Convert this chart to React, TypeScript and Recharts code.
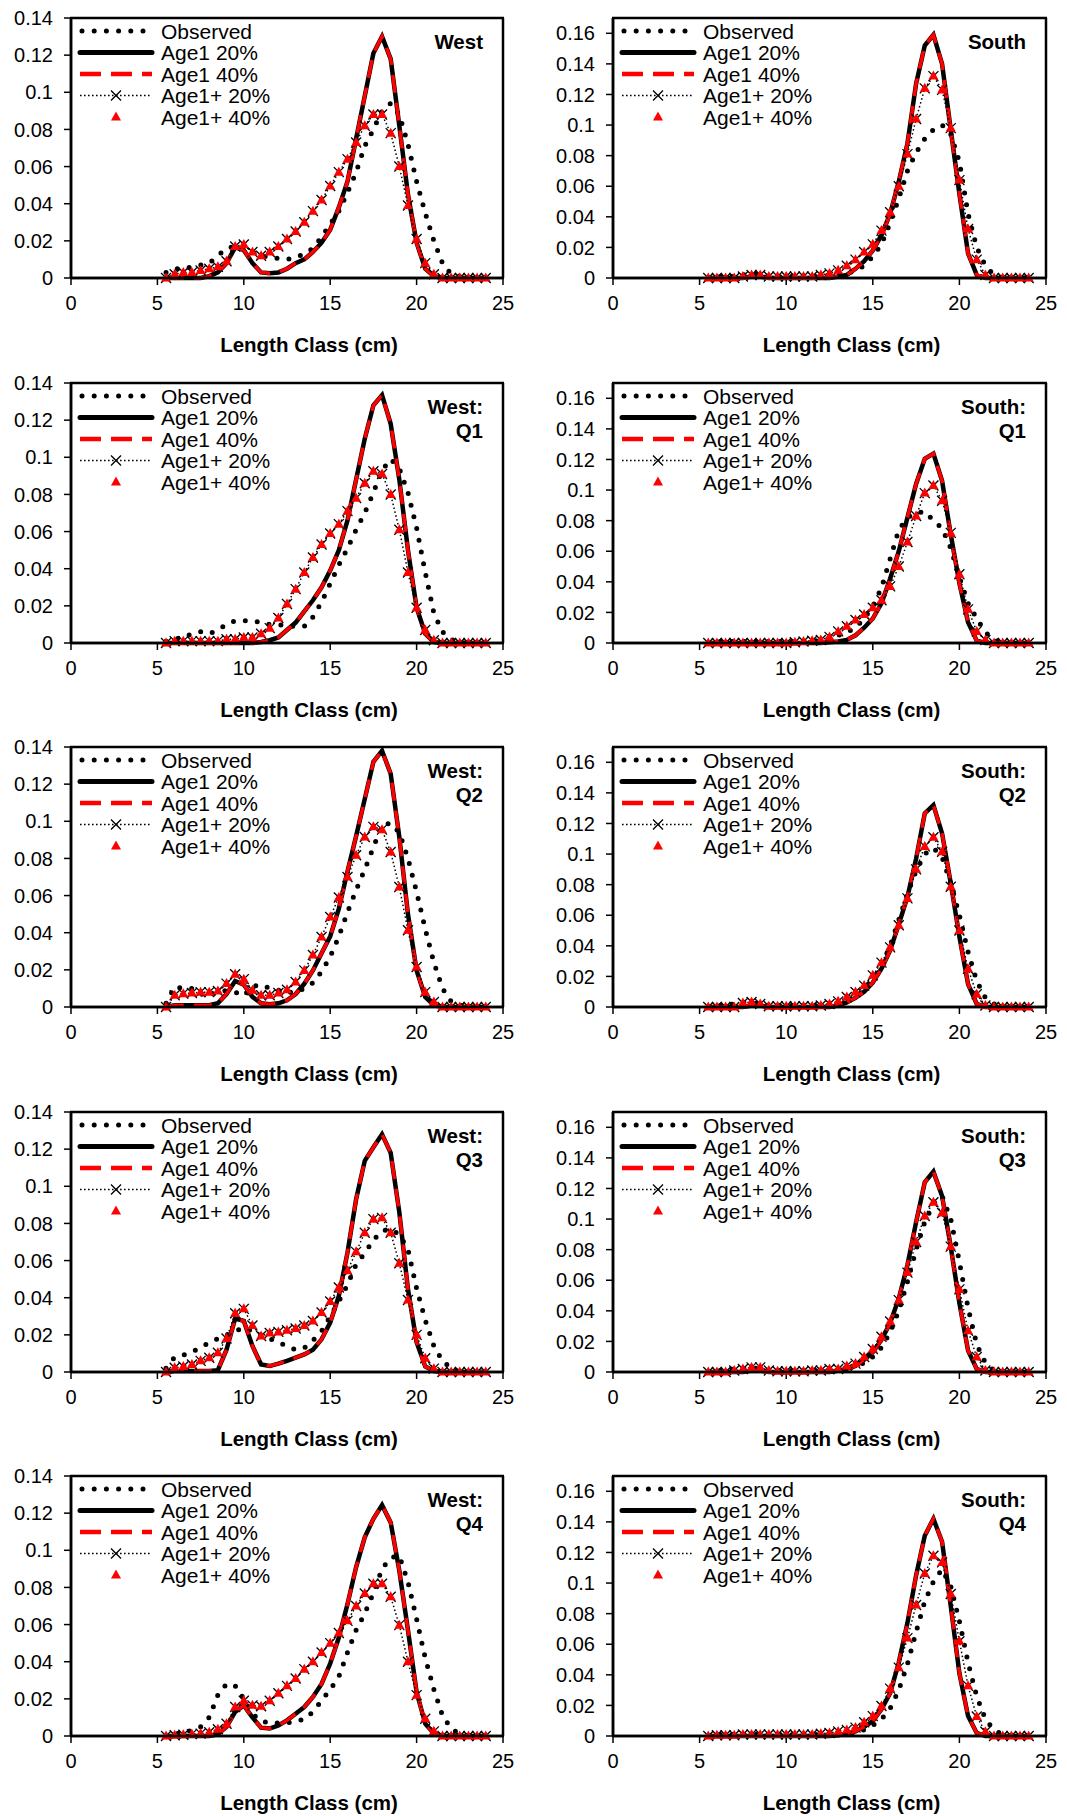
import React from 'react';
import { LineChart, Line, XAxis, YAxis } from 'recharts';

// length classes (cm), shared by every panel
const lengthClasses = [
  5.5, 6, 6.5, 7, 7.5, 8, 8.5, 9, 9.5, 10, 10.5, 11, 11.5, 12, 12.5, 13, 13.5, 14, 14.5, 15,
  15.5, 16, 16.5, 17, 17.5, 18, 18.5, 19, 19.5, 20, 20.5, 21, 21.5, 22, 22.5, 23, 23.5, 24,
];
const xTicks = [0, 5, 10, 15, 20, 25];
const westTicks = [0, 0.02, 0.04, 0.06, 0.08, 0.1, 0.12, 0.14];
const southTicks = [0, 0.02, 0.04, 0.06, 0.08, 0.1, 0.12, 0.14, 0.16];
const seriesNames = ['Observed', 'Age1 20%', 'Age1 40%', 'Age1+ 20%', 'Age1+ 40%'];

// West
const westObserved = [0.003, 0.005, 0.005, 0.006, 0.007, 0.008, 0.012, 0.016, 0.017, 0.016, 0.014, 0.012, 0.011, 0.0105, 0.01, 0.011, 0.013, 0.016, 0.022, 0.029, 0.036, 0.046, 0.057, 0.071, 0.08, 0.09, 0.094, 0.088, 0.072, 0.052, 0.035, 0.02, 0.008, 0.002, 0.001, 0, 0, 0];
const westAge1_20 = [0, 0, 0, 0, 0, 0.001, 0.003, 0.008, 0.0165, 0.015, 0.008, 0.003, 0.0025, 0.003, 0.005, 0.008, 0.01, 0.014, 0.019, 0.026, 0.038, 0.052, 0.075, 0.098, 0.121, 0.13, 0.118, 0.082, 0.045, 0.019, 0.005, 0.001, 0, 0, 0, 0, 0, 0];
const westAge1_40 = westAge1_20;
const westAge1p_20 = [0, 0.002, 0.003, 0.003, 0.004, 0.005, 0.006, 0.009, 0.017, 0.018, 0.014, 0.012, 0.014, 0.017, 0.021, 0.025, 0.03, 0.036, 0.042, 0.0495, 0.057, 0.064, 0.073, 0.082, 0.088, 0.088, 0.078, 0.06, 0.039, 0.021, 0.008, 0.002, 0, 0, 0, 0, 0, 0];
const westAge1p_40 = westAge1p_20;

// South
const southObserved = [0, 0.001, 0.001, 0.001, 0.002, 0.003, 0.002, 0.001, 0.001, 0.001, 0.001, 0.001, 0.001, 0.001, 0.002, 0.002, 0.003, 0.005, 0.008, 0.014, 0.022, 0.036, 0.052, 0.07, 0.082, 0.091, 0.097, 0.1, 0.094, 0.076, 0.042, 0.02, 0.008, 0.002, 0, 0, 0, 0];
const southAge1_20 = [0, 0, 0, 0, 0, 0.001, 0.001, 0, 0, 0, 0, 0, 0, 0, 0, 0.001, 0.002, 0.006, 0.011, 0.018, 0.028, 0.042, 0.063, 0.088, 0.127, 0.152, 0.159, 0.14, 0.097, 0.055, 0.016, 0.002, 0, 0, 0, 0, 0, 0];
const southAge1_40 = southAge1_20;
const southAge1p_20 = [0, 0, 0, 0, 0.001, 0.002, 0.002, 0.001, 0.001, 0.001, 0.001, 0.001, 0.001, 0.002, 0.003, 0.005, 0.008, 0.012, 0.017, 0.022, 0.031, 0.043, 0.06, 0.081, 0.104, 0.124, 0.132, 0.123, 0.098, 0.064, 0.032, 0.012, 0.002, 0, 0, 0, 0, 0];
const southAge1p_40 = southAge1p_20;

// West: Q1
const westQ1Observed = [0.001, 0.002, 0.003, 0.005, 0.006, 0.005, 0.007, 0.01, 0.012, 0.012, 0.012, 0.011, 0.01, 0.01, 0.009, 0.009, 0.009, 0.014, 0.022, 0.032, 0.042, 0.051, 0.061, 0.07, 0.081, 0.093, 0.099, 0.094, 0.081, 0.062, 0.038, 0.016, 0.006, 0.002, 0, 0, 0, 0];
const westQ1Age1_20 = [0, 0, 0, 0, 0, 0, 0, 0, 0, 0, 0, 0.0005, 0.0015, 0.003, 0.007, 0.011, 0.017, 0.023, 0.03, 0.039, 0.05, 0.066, 0.088, 0.11, 0.128, 0.1335, 0.118, 0.088, 0.05, 0.019, 0.005, 0.0005, 0, 0, 0, 0, 0, 0];
const westQ1Age1_40 = westQ1Age1_20;
const westQ1Age1p_20 = [0, 0.001, 0.001, 0.001, 0.001, 0.001, 0.001, 0.002, 0.002, 0.003, 0.003, 0.005, 0.008, 0.0135, 0.021, 0.029, 0.038, 0.046, 0.053, 0.059, 0.064, 0.071, 0.078, 0.086, 0.0925, 0.091, 0.08, 0.061, 0.038, 0.019, 0.007, 0.0015, 0, 0, 0, 0, 0, 0];
const westQ1Age1p_40 = westQ1Age1p_20;

// South: Q1
const southQ1Observed = [0, 0.001, 0.001, 0.001, 0.001, 0.001, 0.001, 0.001, 0.001, 0.001, 0.001, 0.001, 0.001, 0.002, 0.003, 0.005, 0.007, 0.01, 0.016, 0.024, 0.036, 0.055, 0.074, 0.082, 0.085, 0.086, 0.08, 0.075, 0.062, 0.043, 0.026, 0.016, 0.007, 0.002, 0, 0, 0, 0];
const southQ1Age1_20 = [0, 0, 0, 0, 0, 0, 0, 0, 0, 0, 0, 0, 0, 0, 0.0005, 0.001, 0.002, 0.005, 0.01, 0.016, 0.026, 0.042, 0.06, 0.082, 0.104, 0.1205, 0.1238, 0.106, 0.071, 0.039, 0.0135, 0.0015, 0, 0, 0, 0, 0, 0];
const southQ1Age1_40 = southQ1Age1_20;
const southQ1Age1p_20 = [0, 0, 0, 0, 0, 0, 0, 0, 0, 0, 0.0005, 0.001, 0.0015, 0.002, 0.004, 0.0076, 0.011, 0.015, 0.0186, 0.023, 0.028, 0.037, 0.05, 0.066, 0.083, 0.098, 0.103, 0.093, 0.072, 0.045, 0.022, 0.0076, 0.002, 0, 0, 0, 0, 0];
const southQ1Age1p_40 = southQ1Age1p_20;

// West: Q2
const westQ2Observed = [0.002, 0.011, 0.01, 0.01, 0.007, 0.006, 0.008, 0.009, 0.008, 0.006, 0.011, 0.012, 0.01, 0.009, 0.008, 0.008, 0.01, 0.013, 0.019, 0.027, 0.038, 0.051, 0.063, 0.074, 0.086, 0.098, 0.099, 0.094, 0.08, 0.062, 0.042, 0.024, 0.01, 0.003, 0.001, 0, 0, 0];
const westQ2Age1_20 = [0, 0.001, 0.001, 0.001, 0.001, 0.001, 0.002, 0.007, 0.014, 0.012, 0.0055, 0.002, 0.0015, 0.002, 0.0036, 0.007, 0.0125, 0.0197, 0.029, 0.038, 0.053, 0.073, 0.092, 0.112, 0.132, 0.138, 0.1256, 0.0915, 0.05, 0.0197, 0.0054, 0.001, 0, 0, 0, 0, 0, 0];
const westQ2Age1_40 = westQ2Age1_20;
const westQ2Age1p_20 = [0, 0.0063, 0.0072, 0.0075, 0.008, 0.008, 0.0086, 0.0126, 0.0176, 0.015, 0.009, 0.0063, 0.0063, 0.0075, 0.0093, 0.0135, 0.0197, 0.028, 0.0377, 0.0485, 0.059, 0.07, 0.0817, 0.0915, 0.097, 0.0955, 0.0835, 0.0646, 0.0413, 0.0215, 0.008, 0.0027, 0, 0, 0, 0, 0, 0];
const westQ2Age1p_40 = westQ2Age1p_20;

// South: Q2
const southQ2Observed = [0, 0.001, 0.001, 0.002, 0.003, 0.003, 0.002, 0.001, 0.001, 0.001, 0.001, 0.001, 0.001, 0.001, 0.001, 0.002, 0.004, 0.007, 0.011, 0.018, 0.027, 0.04, 0.057, 0.074, 0.089, 0.1, 0.104, 0.098, 0.081, 0.06, 0.036, 0.017, 0.006, 0.002, 0, 0, 0, 0];
const southQ2Age1_20 = [0, 0, 0, 0, 0, 0.001, 0.001, 0, 0, 0, 0, 0, 0, 0, 0, 0.001, 0.003, 0.006, 0.01, 0.016, 0.025, 0.037, 0.054, 0.072, 0.097, 0.1266, 0.132, 0.1135, 0.081, 0.046, 0.015, 0.002, 0, 0, 0, 0, 0, 0];
const southQ2Age1_40 = southQ2Age1_20;
const southQ2Age1p_20 = [0, 0, 0, 0, 0.0026, 0.0033, 0.002, 0.0005, 0.0005, 0.0005, 0.0005, 0.0005, 0.0005, 0.001, 0.002, 0.0037, 0.0065, 0.0098, 0.014, 0.0207, 0.029, 0.039, 0.0535, 0.071, 0.09, 0.105, 0.111, 0.1015, 0.0786, 0.05, 0.025, 0.0083, 0.001, 0, 0, 0, 0, 0];
const southQ2Age1p_40 = southQ2Age1p_20;

// West: Q3
const westQ3Observed = [0.002, 0.008, 0.009, 0.011, 0.013, 0.016, 0.018, 0.02, 0.022, 0.024, 0.022, 0.02, 0.018, 0.016, 0.014, 0.012, 0.013, 0.017, 0.022, 0.03, 0.038, 0.047, 0.058, 0.064, 0.071, 0.076, 0.077, 0.074, 0.066, 0.045, 0.028, 0.014, 0.006, 0.002, 0, 0, 0, 0];
const westQ3Age1_20 = [0, 0.0005, 0.0005, 0.0005, 0.0005, 0.0005, 0.001, 0.012, 0.0288, 0.0275, 0.014, 0.004, 0.0032, 0.0045, 0.006, 0.0077, 0.0095, 0.012, 0.0176, 0.0266, 0.041, 0.0643, 0.093, 0.1137, 0.121, 0.128, 0.118, 0.086, 0.0446, 0.016, 0.003, 0.0005, 0, 0, 0, 0, 0, 0];
const westQ3Age1_40 = westQ3Age1_20;
const westQ3Age1p_20 = [0, 0.0023, 0.003, 0.004, 0.006, 0.0077, 0.0104, 0.018, 0.0316, 0.034, 0.025, 0.0194, 0.021, 0.0216, 0.0225, 0.0234, 0.025, 0.0275, 0.032, 0.038, 0.0455, 0.0545, 0.0647, 0.075, 0.0823, 0.083, 0.075, 0.0586, 0.0388, 0.02, 0.0074, 0.0018, 0, 0, 0, 0, 0, 0];
const westQ3Age1p_40 = westQ3Age1p_20;

// South: Q3
const southQ3Observed = [0, 0.001, 0.001, 0.002, 0.002, 0.003, 0.002, 0.001, 0.001, 0.001, 0.001, 0.001, 0.001, 0.001, 0.001, 0.001, 0.002, 0.004, 0.006, 0.01, 0.016, 0.026, 0.04, 0.059, 0.08, 0.098, 0.11, 0.115, 0.1, 0.072, 0.042, 0.018, 0.006, 0.001, 0, 0, 0, 0];
const southQ3Age1_20 = [0, 0, 0, 0, 0, 0.001, 0.001, 0, 0, 0, 0, 0, 0, 0, 0, 0.001, 0.002, 0.004, 0.008, 0.013, 0.021, 0.032, 0.048, 0.07, 0.098, 0.124, 0.131, 0.115, 0.082, 0.045, 0.014, 0.002, 0, 0, 0, 0, 0, 0];
const southQ3Age1_40 = southQ3Age1_20;
const southQ3Age1p_20 = [0, 0, 0, 0.001, 0.002, 0.003, 0.003, 0.001, 0.0005, 0.0005, 0.0005, 0.0005, 0.001, 0.001, 0.002, 0.002, 0.004, 0.0055, 0.0098, 0.015, 0.023, 0.033, 0.047, 0.065, 0.085, 0.102, 0.111, 0.104, 0.082, 0.054, 0.027, 0.0098, 0.001, 0, 0, 0, 0, 0];
const southQ3Age1p_40 = southQ3Age1p_20;

// West: Q4
const westQ4Observed = [0, 0.001, 0.002, 0.003, 0.005, 0.01, 0.022, 0.028, 0.027, 0.02, 0.012, 0.008, 0.007, 0.007, 0.007, 0.008, 0.009, 0.013, 0.019, 0.025, 0.032, 0.045, 0.057, 0.066, 0.077, 0.09, 0.096, 0.097, 0.083, 0.063, 0.042, 0.025, 0.011, 0.004, 0.001, 0, 0, 0];
const westQ4Age1_20 = [0, 0, 0, 0, 0, 0, 0.001, 0.005, 0.013, 0.0165, 0.01, 0.0045, 0.004, 0.0057, 0.0084, 0.012, 0.0156, 0.021, 0.028, 0.039, 0.053, 0.071, 0.091, 0.107, 0.117, 0.1243, 0.115, 0.089, 0.057, 0.0237, 0.0066, 0.0013, 0, 0, 0, 0, 0, 0];
const westQ4Age1_40 = westQ4Age1_20;
const westQ4Age1p_20 = [0, 0.0004, 0.0007, 0.001, 0.0013, 0.002, 0.0036, 0.0066, 0.0156, 0.019, 0.0165, 0.016, 0.019, 0.023, 0.027, 0.031, 0.036, 0.04, 0.045, 0.05, 0.0555, 0.062, 0.07, 0.0767, 0.082, 0.082, 0.075, 0.0597, 0.04, 0.022, 0.0093, 0.0025, 0, 0, 0, 0, 0, 0];
const westQ4Age1p_40 = westQ4Age1p_20;

// South: Q4
const southQ4Observed = [0, 0.001, 0.001, 0.001, 0.001, 0.001, 0.001, 0.001, 0.001, 0.001, 0.001, 0.001, 0.001, 0.001, 0.001, 0.001, 0.001, 0.002, 0.004, 0.007, 0.011, 0.018, 0.03, 0.047, 0.068, 0.088, 0.101, 0.109, 0.098, 0.075, 0.048, 0.026, 0.011, 0.004, 0.001, 0, 0, 0];
const southQ4Age1_20 = [0, 0, 0, 0, 0, 0, 0, 0, 0, 0, 0, 0, 0, 0, 0, 0.0005, 0.0015, 0.003, 0.006, 0.0098, 0.0175, 0.028, 0.048, 0.074, 0.105, 0.131, 0.142, 0.127, 0.085, 0.041, 0.013, 0.002, 0, 0, 0, 0, 0, 0];
const southQ4Age1_40 = southQ4Age1_20;
const southQ4Age1p_20 = [0, 0.0005, 0.0005, 0.0005, 0.001, 0.001, 0.001, 0.001, 0.001, 0.001, 0.001, 0.001, 0.001, 0.0015, 0.002, 0.003, 0.004, 0.0055, 0.009, 0.013, 0.0196, 0.031, 0.0447, 0.064, 0.0856, 0.1063, 0.1179, 0.1135, 0.0928, 0.062, 0.0328, 0.0127, 0.0028, 0, 0, 0, 0, 0];
const southQ4Age1p_40 = southQ4Age1p_20;

const FONT = '"Liberation Sans", Arial, Helvetica, sans-serif';
const RED = '#FF0000';
const PANEL_H = 364;
const PLOT_TOP = 18;
const PLOT_BOTTOM = 278;
const tickMark = { stroke: '#000', strokeWidth: 1.5 };
const frameLine = { stroke: '#000', strokeWidth: 2.5 };

const XMark = (props: any) => {
  const { cx, cy, index } = props;
  if (cx == null || cy == null) return <g key={`xm-${index}`} />;
  const s = 5;
  return (
    <path
      key={`xm-${index}`}
      d={`M${cx - s},${cy - s}L${cx + s},${cy + s}M${cx - s},${cy + s}L${cx + s},${cy - s}`}
      stroke="#000"
      strokeWidth={1.3}
      fill="none"
    />
  );
};

const TriMark = (props: any) => {
  const { cx, cy, index } = props;
  if (cx == null || cy == null) return <g key={`tr-${index}`} />;
  return (
    <path
      key={`tr-${index}`}
      d={`M${cx},${cy - 5.5}L${cx + 5},${cy + 3.5}L${cx - 5},${cy + 3.5}Z`}
      fill={RED}
      stroke="none"
    />
  );
};

const AxisTitle = (props: any) => {
  const vb = props.viewBox || {};
  const cx = (vb.x ?? 0) + (vb.width ?? 0) / 2 + 22;
  const y = (vb.y ?? PLOT_BOTTOM) + 74;
  return (
    <text x={cx} y={y} textAnchor="middle" fontFamily={FONT} fontSize={20.5} fontWeight="bold" fill="#000">
      Length Class (cm)
    </text>
  );
};

// plot frame and legend, drawn over the chart svg
function Overlay({ plotLeft, plotRight, width }: { plotLeft: number; plotRight: number; width: number }) {
  const x0 = plotLeft + 9;
  const x1 = plotLeft + 81;
  const mid = plotLeft + 45;
  const tx = plotLeft + 90;
  const rows = [31, 52.5, 74, 95.5, 117];
  const edges = [
    [plotLeft - 1, PLOT_TOP, plotRight + 1, PLOT_TOP],
    [plotRight, PLOT_TOP, plotRight, PLOT_BOTTOM],
    [plotLeft - 1, PLOT_BOTTOM, plotRight + 1, PLOT_BOTTOM],
    [plotLeft, PLOT_TOP, plotLeft, PLOT_BOTTOM],
  ];
  return (
    <svg
      width={width}
      height={PANEL_H}
      style={{ position: 'absolute', left: 0, top: 0, pointerEvents: 'none', zIndex: 2 }}
    >
      {edges.map(([ax, ay, bx, by], i) => (
        <line key={`edge-${i}`} x1={ax} y1={ay} x2={bx} y2={by} stroke="#000" strokeWidth={2.5} />
      ))}
      <line x1={x0 + 2} y1={rows[0]} x2={x1 - 6} y2={rows[0]} stroke="#000" strokeWidth={5} strokeDasharray="0 12.2" strokeLinecap="round" />
      <line x1={x0} y1={rows[1]} x2={x1} y2={rows[1]} stroke="#000" strokeWidth={5} strokeLinecap="round" />
      <line x1={x0} y1={rows[2]} x2={x1} y2={rows[2]} stroke={RED} strokeWidth={4.5} strokeDasharray="21 10" />
      <line x1={x0} y1={rows[3]} x2={x1} y2={rows[3]} stroke="#000" strokeWidth={1.6} strokeDasharray="1.6 2.4" />
      <XMark cx={mid} cy={rows[3]} index="lg" />
      <TriMark cx={mid} cy={rows[4]} index="lg" />
      {seriesNames.map((name, i) => (
        <text key={name} x={tx} y={rows[i] + 7.5} fontFamily={FONT} fontSize={21} fill="#000">
          {name}
        </text>
      ))}
    </svg>
  );
}

interface PanelProps {
  left: number;
  top: number;
  width: number;
  yAxisWidth: number;
  rightGap: number;
  yMax: number;
  yTicks: number[];
  title: string[];
  observed: number[];
  age1_20: number[];
  age1_40: number[];
  age1p_20: number[];
  age1p_40: number[];
}

function Panel(p: PanelProps) {
  const data = lengthClasses.map((x, i) => ({
    x,
    observed: p.observed[i],
    age1_20: p.age1_20[i],
    age1_40: p.age1_40[i],
    age1p_20: p.age1p_20[i],
    age1p_40: p.age1p_40[i],
  }));
  const plotRight = p.width - p.rightGap;
  return (
    <div style={{ position: 'absolute', left: p.left, top: p.top, width: p.width, height: PANEL_H }}>
      <LineChart
        width={p.width}
        height={PANEL_H}
        data={data}
        margin={{ top: PLOT_TOP, right: p.rightGap, bottom: 0, left: 0 }}
      >
        <XAxis
          dataKey="x"
          type="number"
          domain={[0, 25]}
          ticks={xTicks}
          interval={0}
          height={PANEL_H - PLOT_BOTTOM}
          axisLine={frameLine}
          tickLine={tickMark}
          tickSize={7}
          tickMargin={11}
          tick={{ fill: '#000', fontSize: 20, fontFamily: FONT }}
          label={<AxisTitle />}
        />
        <YAxis
          type="number"
          domain={[0, p.yMax]}
          ticks={p.yTicks}
          interval={0}
          width={p.yAxisWidth}
          axisLine={frameLine}
          tickLine={tickMark}
          tickSize={7}
          tickMargin={11}
          tick={{ fill: '#000', fontSize: 20, fontFamily: FONT }}
          tickFormatter={(v: number) => String(v)}
        />
        <Line
          type="linear"
          dataKey="observed"
          stroke="#000"
          strokeWidth={5}
          strokeDasharray="0 12"
          strokeLinecap="round"
          dot={false}
          activeDot={false}
          isAnimationActive={false}
        />
        <Line
          type="linear"
          dataKey="age1_20"
          stroke="#000"
          strokeWidth={4.5}
          dot={false}
          activeDot={false}
          isAnimationActive={false}
        />
        <Line
          type="linear"
          dataKey="age1_40"
          stroke={RED}
          strokeWidth={3.5}
          strokeDasharray="18 10"
          dot={false}
          activeDot={false}
          isAnimationActive={false}
        />
        <Line
          type="linear"
          dataKey="age1p_20"
          stroke="#000"
          strokeWidth={1.5}
          strokeDasharray="1.5 2.5"
          dot={XMark}
          activeDot={false}
          isAnimationActive={false}
        />
        <Line
          type="linear"
          dataKey="age1p_40"
          stroke="none"
          strokeWidth={0}
          dot={TriMark}
          activeDot={false}
          isAnimationActive={false}
        />
      </LineChart>
      <Overlay plotLeft={p.yAxisWidth} plotRight={plotRight} width={p.width} />
      <div
        style={{
          position: 'absolute',
          right: p.width - plotRight + 20,
          top: PLOT_TOP + 12,
          textAlign: 'right',
          fontFamily: FONT,
          fontWeight: 'bold',
          fontSize: 20.5,
          lineHeight: '24px',
          whiteSpace: 'nowrap',
          zIndex: 3,
        }}
      >
        {p.title.map((t) => (
          <div key={t}>{t}</div>
        ))}
      </div>
    </div>
  );
}

const ROW_PITCH = 364.5;

export default function App() {
  const west = { left: 0, width: 530, yAxisWidth: 71, rightGap: 27, yMax: 0.14, yTicks: westTicks };
  const south = { left: 530, width: 537, yAxisWidth: 83, rightGap: 21, yMax: 0.17, yTicks: southTicks };
  return (
    <div
      style={{
        position: 'absolute',
        left: 0,
        top: 0,
        width: 1067,
        height: 1816,
        background: '#fff',
        fontFamily: FONT,
      }}
    >
      <Panel {...west} top={0} title={['West']} observed={westObserved} age1_20={westAge1_20} age1_40={westAge1_40} age1p_20={westAge1p_20} age1p_40={westAge1p_40} />
      <Panel {...south} top={0} title={['South']} observed={southObserved} age1_20={southAge1_20} age1_40={southAge1_40} age1p_20={southAge1p_20} age1p_40={southAge1p_40} />
      <Panel {...west} top={ROW_PITCH} title={['West:', 'Q1']} observed={westQ1Observed} age1_20={westQ1Age1_20} age1_40={westQ1Age1_40} age1p_20={westQ1Age1p_20} age1p_40={westQ1Age1p_40} />
      <Panel {...south} top={ROW_PITCH} title={['South:', 'Q1']} observed={southQ1Observed} age1_20={southQ1Age1_20} age1_40={southQ1Age1_40} age1p_20={southQ1Age1p_20} age1p_40={southQ1Age1p_40} />
      <Panel {...west} top={ROW_PITCH * 2} title={['West:', 'Q2']} observed={westQ2Observed} age1_20={westQ2Age1_20} age1_40={westQ2Age1_40} age1p_20={westQ2Age1p_20} age1p_40={westQ2Age1p_40} />
      <Panel {...south} top={ROW_PITCH * 2} title={['South:', 'Q2']} observed={southQ2Observed} age1_20={southQ2Age1_20} age1_40={southQ2Age1_40} age1p_20={southQ2Age1p_20} age1p_40={southQ2Age1p_40} />
      <Panel {...west} top={ROW_PITCH * 3} title={['West:', 'Q3']} observed={westQ3Observed} age1_20={westQ3Age1_20} age1_40={westQ3Age1_40} age1p_20={westQ3Age1p_20} age1p_40={westQ3Age1p_40} />
      <Panel {...south} top={ROW_PITCH * 3} title={['South:', 'Q3']} observed={southQ3Observed} age1_20={southQ3Age1_20} age1_40={southQ3Age1_40} age1p_20={southQ3Age1p_20} age1p_40={southQ3Age1p_40} />
      <Panel {...west} top={ROW_PITCH * 4} title={['West:', 'Q4']} observed={westQ4Observed} age1_20={westQ4Age1_20} age1_40={westQ4Age1_40} age1p_20={westQ4Age1p_20} age1p_40={westQ4Age1p_40} />
      <Panel {...south} top={ROW_PITCH * 4} title={['South:', 'Q4']} observed={southQ4Observed} age1_20={southQ4Age1_20} age1_40={southQ4Age1_40} age1p_20={southQ4Age1p_20} age1p_40={southQ4Age1p_40} />
    </div>
  );
}
